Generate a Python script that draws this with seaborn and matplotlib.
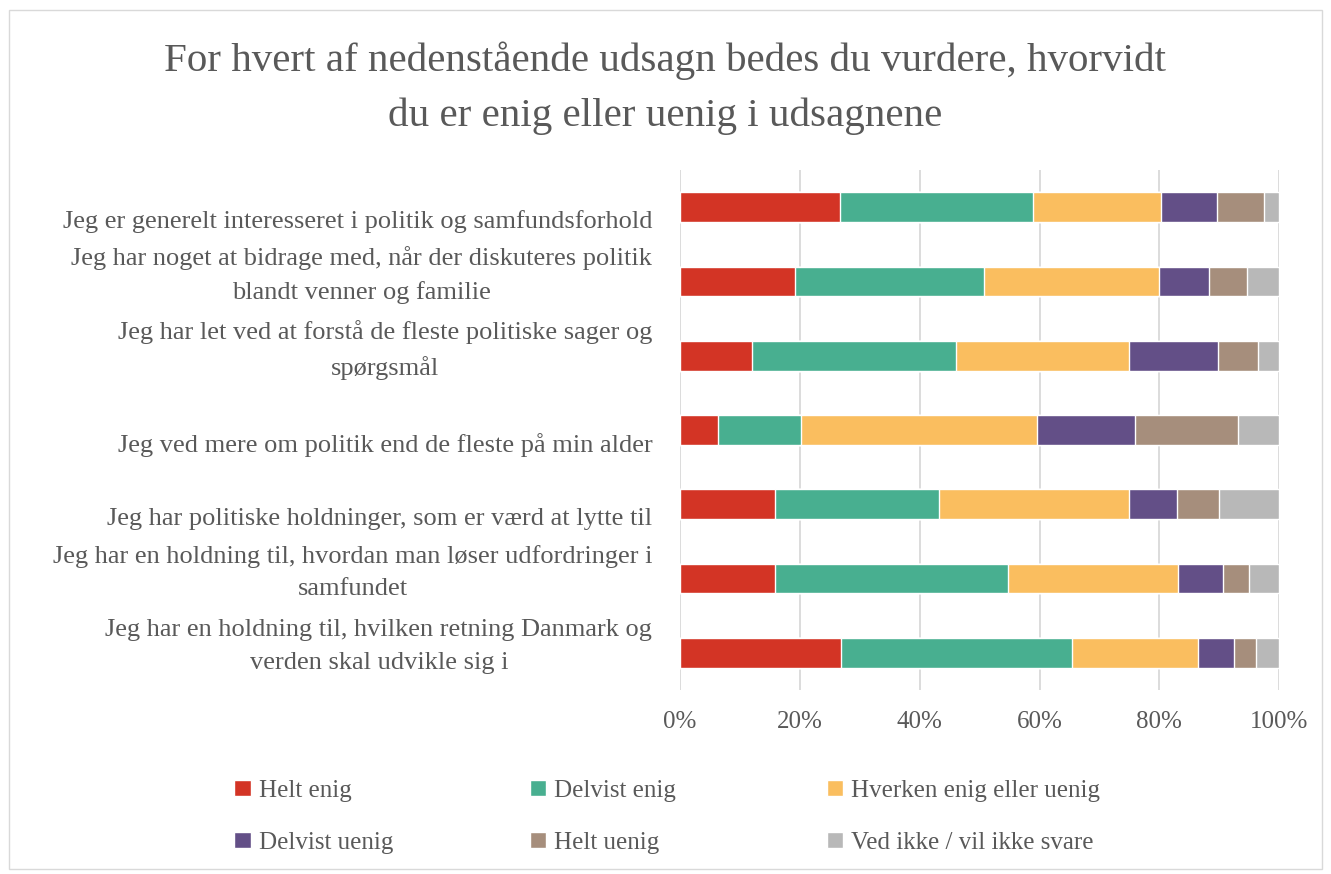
import pandas as pd
import seaborn as sns
import matplotlib.pyplot as plt
import matplotlib.transforms as mtransforms
from matplotlib.patches import Patch, Rectangle
from matplotlib.ticker import PercentFormatter

# Data (percent of respondents per statement)
udsagn = [
    "Jeg er generelt interesseret i politik og samfundsforhold",
    "Jeg har noget at bidrage med, når der diskuteres politik\nblandt venner og familie",
    "Jeg har let ved at forstå de fleste politiske sager og\nspørgsmål",
    "Jeg ved mere om politik end de fleste på min alder",
    "Jeg har politiske holdninger, som er værd at lytte til",
    "Jeg har en holdning til, hvordan man løser udfordringer i\nsamfundet",
    "Jeg har en holdning til, hvilken retning Danmark og\nverden skal udvikle sig i",
]
kategorier = ["Helt enig", "Delvist enig", "Hverken enig eller uenig",
              "Delvist uenig", "Helt uenig", "Ved ikke / vil ikke svare"]
helt_enig = [26.7, 19.2, 12.0, 6.3, 15.9, 15.9, 26.9]
delvist_enig = [32.2, 31.6, 34.1, 13.9, 27.4, 38.9, 38.5]
hverken = [21.4, 29.2, 28.8, 39.3, 31.7, 28.4, 21.0]
delvist_uenig = [9.3, 8.3, 14.9, 16.4, 8.0, 7.4, 6.1]
helt_uenig = [7.8, 6.3, 6.6, 17.2, 6.9, 4.3, 3.7]
ved_ikke = [2.6, 5.4, 3.6, 6.9, 10.1, 5.1, 3.8]
farver = ["#D33425", "#48AF90", "#FABE5F", "#634F87", "#A68E7C", "#B8B8B8"]

df = pd.DataFrame({"Udsagn": udsagn, kategorier[0]: helt_enig, kategorier[1]: delvist_enig,
                   kategorier[2]: hverken, kategorier[3]: delvist_uenig,
                   kategorier[4]: helt_uenig, kategorier[5]: ved_ikke})
kum = df[kategorier].cumsum(axis=1)

sns.set_theme(style="white")
plt.rcParams['font.family'] = ['Liberation Serif', 'DejaVu Serif']
tekst = "#595959"

fig = plt.figure(figsize=(13.31, 8.74), dpi=100)
ax = fig.add_axes([0.511, 0.2105, 0.45, 0.595])

# stacked bars: draw cumulative totals from the last category down
for i in range(len(kategorier) - 1, -1, -1):
    sns.barplot(x=kum[kategorier[i]], y=df["Udsagn"], color=farver[i], width=0.4,
                orient="h", saturation=1, ax=ax, zorder=3)

ax.set_xlim(0, 100)
ax.set_xticks([0, 20, 40, 60, 80, 100])
ax.xaxis.set_major_formatter(PercentFormatter(decimals=0))
ax.grid(axis="x", color="#d9d9d9", linewidth=1.3, zorder=0)
ax.set_axisbelow(True)
for s in ax.spines.values():
    s.set_visible(False)
ax.set_xlabel("")
ax.set_ylabel("")
ax.tick_params(axis="x", length=0, labelsize=18, labelcolor=tekst, pad=15)
ax.tick_params(axis="y", length=0, labelsize=19, labelcolor=tekst, pad=20)
for lbl in ax.get_yticklabels():
    lbl.set_multialignment("center")
    lbl.set_linespacing(1.6)
    dy = 0.14 if "\n" in lbl.get_text() else -0.12
    lbl.set_transform(lbl.get_transform() +
                      mtransforms.ScaledTranslation(0, dy, fig.dpi_scale_trans))

fig.suptitle("For hvert af nedenstående udsagn bedes du vurdere, hvorvidt\n"
             "du er enig eller uenig i udsagnene",
             x=0.5, y=0.899, va="center", fontsize=29.5, color=tekst, linespacing=1.6)

# legend in three columns
xpos = [0.176, 0.398, 0.621]
for k in range(3):
    handles = [Patch(facecolor=farver[k], label=kategorier[k]),
               Patch(facecolor=farver[k + 3], label=kategorier[k + 3])]
    fig.legend(handles=handles, loc="upper left", bbox_to_anchor=(xpos[k], 0.108),
               frameon=False, fontsize=18, labelcolor=tekst, handlelength=0.65,
               handleheight=0.65, handletextpad=0.32, labelspacing=1.2,
               borderaxespad=0, borderpad=0)

fig.patches.append(Rectangle((0.007, 0.006), 0.986, 0.982, transform=fig.transFigure,
                             fill=False, edgecolor="#d9d9d9", linewidth=1))

fig.savefig("out.png", dpi=100)
